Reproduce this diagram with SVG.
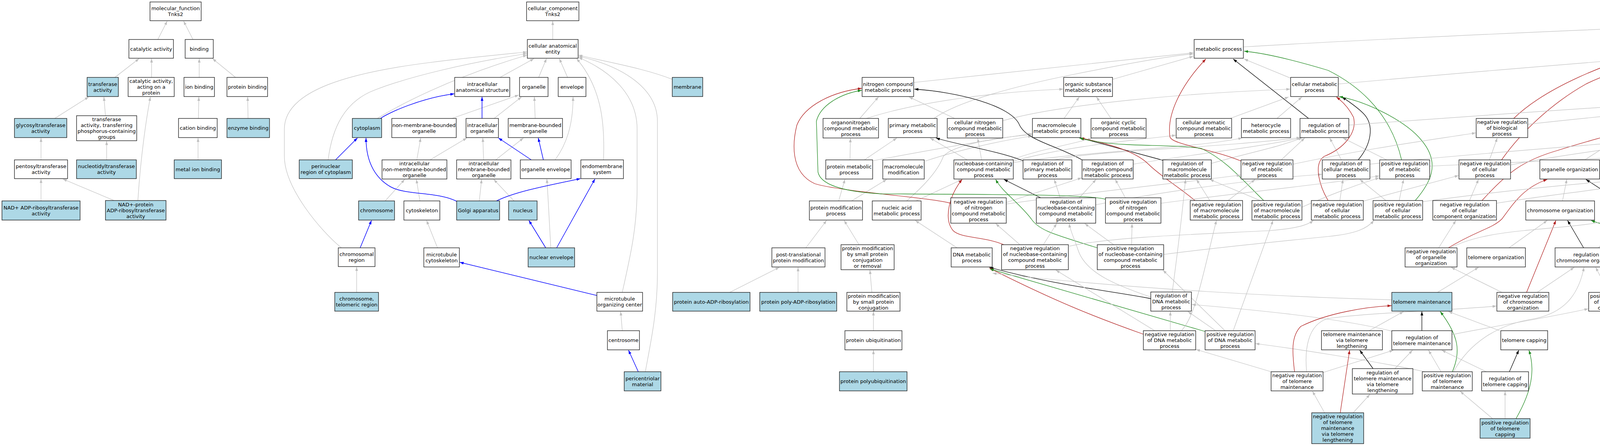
<svg xmlns="http://www.w3.org/2000/svg" width="6032" height="1141" viewBox="0 0 6032 1141">
<defs>
<style>
#nodes rect{fill:#fff;stroke:#111;stroke-width:1.3}
#nodes .lb rect{fill:#add8e6}
#nodes .cf rect{fill:#6495ed}
#nodes text{font-family:'DejaVu Sans','Liberation Sans',sans-serif;font-size:13px;text-anchor:middle;fill:#000}
#edges path{fill:none;stroke-width:1.2}
#edges .g{stroke:#c0c0c0;marker-end:url(#ag)}
#edges .b{stroke:#0000ff;stroke-width:1.5;marker-end:url(#ab)}
#edges .r{stroke:#b22222;stroke-width:1.3;marker-end:url(#ar)}
#edges .v{stroke:#228b22;stroke-width:1.3;marker-end:url(#av)}
#edges .k{stroke:#000;stroke-width:1.3;marker-end:url(#ak)}
</style>
<marker id="ag" viewBox="0 0 10 7" refX="10" refY="3.5" markerWidth="10" markerHeight="7" markerUnits="userSpaceOnUse" orient="auto"><path d="M0,0L10,3.5L0,7z" fill="#c0c0c0"/></marker>
<marker id="ab" viewBox="0 0 10 7" refX="10" refY="3.5" markerWidth="10" markerHeight="7" markerUnits="userSpaceOnUse" orient="auto"><path d="M0,0L10,3.5L0,7z" fill="#0000ff"/></marker>
<marker id="ar" viewBox="0 0 10 7" refX="10" refY="3.5" markerWidth="10" markerHeight="7" markerUnits="userSpaceOnUse" orient="auto"><path d="M0,0L10,3.5L0,7z" fill="#b22222"/></marker>
<marker id="av" viewBox="0 0 10 7" refX="10" refY="3.5" markerWidth="10" markerHeight="7" markerUnits="userSpaceOnUse" orient="auto"><path d="M0,0L10,3.5L0,7z" fill="#228b22"/></marker>
<marker id="ak" viewBox="0 0 10 7" refX="10" refY="3.5" markerWidth="10" markerHeight="7" markerUnits="userSpaceOnUse" orient="auto"><path d="M0,0L10,3.5L0,7z" fill="#000"/></marker>
</defs>
<rect width="6032" height="1141" fill="#fff"/>
<g id="edges">
<path class="g" d="M404,101L428,54"/>
<path class="g" d="M494,101L470,54"/>
<path class="g" d="M294,198L356,150"/>
<path class="g" d="M388,198L388,150"/>
<path class="g" d="M510,198L510,150"/>
<path class="g" d="M603,198L544,150"/>
<path class="g" d="M140,303L227,248"/>
<path class="g" d="M270,296L266,248"/>
<path class="g" d="M508,303L509,248"/>
<path class="g" d="M635,303L634,248"/>
<path class="g" d="M105,409L105,353"/>
<path class="g" d="M273,409L273,361"/>
<path class="g" d="M507,409L507,353"/>
<path class="g" d="M105,514L105,458"/>
<path class="g" d="M292,513L161,458"/>
<path class="g" d="M353,513C360,400 375,300 385,248"/>
<path class="g" d="M1415,101L1415,54"/>
<path class="g" d="M1280,198L1367,150"/>
<path class="g" d="M1379,198L1399,150"/>
<path class="g" d="M1453,198L1432,150"/>
<path class="g" d="M1721,203C1650,175 1560,160 1481,141"/>
<path class="g" d="M1545,409C1548,330 1545,230 1476,150"/>
<path class="g" d="M1593,748C1615,650 1631,580 1631,480L1631,330C1631,240 1560,180 1481,147"/>
<path class="g" d="M1652,951C1665,880 1683,800 1683,700L1683,310C1683,230 1600,170 1481,144"/>
<path class="g" d="M874,634C820,590 728,480 728,400L728,330C728,230 900,185 1100,160C1200,147 1300,138 1349,133"/>
<path class="g" d="M840,409C850,330 880,260 960,230C1050,195 1200,160 1349,137"/>
<path class="g" d="M966,303C1020,270 1150,200 1349,141"/>
<path class="g" d="M1157,303L1328,243"/>
<path class="g" d="M1265,303L1335,248"/>
<path class="g" d="M1370,303L1368,248"/>
<path class="g" d="M1421,409C1450,370 1467,320 1467,248"/>
<path class="g" d="M1067,409L1077,353"/>
<path class="g" d="M1101,409L1195,353"/>
<path class="g" d="M1238,409L1236,353"/>
<path class="g" d="M1269,409L1340,353"/>
<path class="g" d="M1075,514L1066,459"/>
<path class="g" d="M986,514L1036,459"/>
<path class="g" d="M1227,514L1233,459"/>
<path class="g" d="M1316,514L1264,459"/>
<path class="g" d="M1410,634C1408,590 1404,520 1400,458"/>
<path class="g" d="M1120,634L1092,564"/>
<path class="g" d="M1593,846L1589,797"/>
<path class="g" d="M913,748L913,683"/>
<path class="g" d="M1868,748L1995,684"/>
<path class="b" d="M974,303C995,288 1080,250 1163,240"/>
<path class="b" d="M1234,303L1234,248"/>
<path class="b" d="M1360,409L1276,353"/>
<path class="b" d="M1391,409L1378,353"/>
<path class="b" d="M1271,514C1320,490 1400,475 1486,457"/>
<path class="b" d="M1425,634L1523,458"/>
<path class="b" d="M1397,634L1354,564"/>
<path class="b" d="M1169,515C1120,490 1040,500 1000,478C965,458 937,420 937,353"/>
<path class="b" d="M859,409L915,353"/>
<path class="b" d="M922,634L951,564"/>
<path class="b" d="M1528,756L1177,671"/>
<path class="b" d="M1634,951L1609,896"/>
<path class="g" d="M2147,514L2163,459"/>
<path class="g" d="M2180,514L2270,459"/>
<path class="g" d="M2345,514L2463,459"/>
<path class="g" d="M2321,514C2360,480 2400,440 2415,400C2440,370 2560,350 2642,345"/>
<path class="g" d="M2176,409L2177,354"/>
<path class="g" d="M2213,409L2296,353"/>
<path class="g" d="M2236,411C2400,380 2550,355 2642,342"/>
<path class="g" d="M2369,412C2450,385 2560,360 2642,348"/>
<path class="g" d="M2476,409L2381,353"/>
<path class="g" d="M2513,409L2503,354"/>
<path class="g" d="M2590,409C2650,385 2740,370 2795,354"/>
<path class="g" d="M2594,412C2750,370 2900,360 3010,346"/>
<path class="g" d="M2594,416C2800,385 3050,380 3180,353"/>
<path class="g" d="M2063,634L2116,564"/>
<path class="g" d="M2199,626L2161,564"/>
<path class="g" d="M2232,748L2227,691"/>
<path class="g" d="M2236,846L2236,797"/>
<path class="g" d="M2236,951L2236,896"/>
<path class="g" d="M2043,748L2043,684"/>
<path class="g" d="M2450,634L2343,564"/>
<path class="g" d="M2339,211L3055,135"/>
<path class="g" d="M2848,203L3055,144"/>
<path class="g" d="M2391,303C2450,260 2600,220 2750,190C2900,160 3000,142 3055,138"/>
<path class="g" d="M3304,200L3185,151"/>
<path class="g" d="M3183,120C3600,95 4400,60 5053,38"/>
<path class="g" d="M2201,303L2249,248"/>
<path class="g" d="M2444,303L2327,248"/>
<path class="g" d="M2218,303C2350,260 2550,235 2722,228"/>
<path class="g" d="M2567,309C2700,270 3000,240 3303,228"/>
<path class="g" d="M2724,303L2763,248"/>
<path class="g" d="M2844,303L2807,248"/>
<path class="g" d="M3149,303L3299,248"/>
<path class="g" d="M3269,303L3333,248"/>
<path class="k" d="M2619,411C2550,385 2450,370 2396,353"/>
<path class="k" d="M2770,409C2700,370 2630,360 2610,320C2590,270 2450,235 2341,228"/>
<path class="k" d="M2977,410L2766,353"/>
<path class="g" d="M2700,409C2800,385 3100,380 3329,352"/>
<path class="g" d="M2901,420C3050,395 3200,380 3331,353"/>
<path class="g" d="M3101,418C3200,390 3280,375 3334,352"/>
<path class="g" d="M3280,409L3340,353"/>
<path class="g" d="M3434,409L3404,353"/>
<path class="g" d="M3550,409L3438,353"/>
<path class="g" d="M2805,524C3000,485 3250,455 3384,446"/>
<path class="k" d="M3350,303L3157,151"/>
<path class="r" d="M3177,412C3100,380 3000,370 2995,350C2985,280 3040,200 3087,151"/>
<path class="v" d="M3588,409C3570,330 3520,240 3400,180C3300,150 3230,135 3185,131"/>
<path class="k" d="M3477,409C3510,370 3520,320 3490,290C3470,270 3445,255 3436,248"/>
<path class="r" d="M3400,513C3380,480 3360,420 3390,400C3440,380 3475,340 3465,300C3455,280 3440,262 3421,248"/>
<path class="v" d="M3623,513C3660,470 3690,420 3640,360C3600,310 3500,260 3428,247"/>
<path class="r" d="M3059,513C3020,480 2970,450 2940,420C2910,390 2850,370 2766,353"/>
<path class="v" d="M3235,513C3180,460 3140,410 3076,380C3030,372 2950,373 2888,370C2830,368 2790,360 2763,353"/>
<path class="g" d="M3097,513L3063,459"/>
<path class="g" d="M3144,513L3213,459"/>
<path class="g" d="M3226,513L3097,459"/>
<path class="g" d="M3333,530C3400,500 3480,470 3531,455"/>
<path class="k" d="M2664,506L2570,459"/>
<path class="g" d="M2576,518L2769,455"/>
<path class="g" d="M2576,522C2800,490 3000,470 3176,448"/>
<path class="g" d="M2763,506L2806,459"/>
<path class="g" d="M2714,506L2699,459"/>
<path class="g" d="M2881,506L2855,459"/>
<path class="g" d="M2972,520C3200,490 3400,470 3531,450"/>
<path class="r" d="M2434,520C2380,505 2150,490 2086,470C2020,440 2030,360 2040,320C2060,270 2130,235 2206,226"/>
<path class="v" d="M2830,510C2800,497 2500,497 2257,496C2150,490 2100,470 2094,440L2090,310C2100,270 2150,240 2206,231"/>
<path class="r" d="M2570,626C2520,605 2460,610 2440,590C2415,560 2430,500 2463,459"/>
<path class="v" d="M2809,634C2700,600 2660,590 2640,560C2610,520 2565,490 2549,459"/>
<path class="g" d="M2671,626L2705,572"/>
<path class="g" d="M2611,626L2549,572"/>
<path class="g" d="M2851,626L2777,572"/>
<path class="g" d="M2897,626L2898,572"/>
<path class="g" d="M2737,630C2850,605 3100,598 3250,590C3310,585 3345,578 3362,564"/>
<path class="g" d="M2979,651C3100,635 3300,615 3400,605C3470,598 3500,585 3517,564"/>
<path class="k" d="M2946,764C2850,745 2700,730 2533,684"/>
<path class="r" d="M2927,855C2800,810 2700,770 2533,686"/>
<path class="v" d="M3085,848L2534,688"/>
<path class="g" d="M3563,767C3300,760 2900,740 2541,699"/>
<path class="g" d="M3001,747C3010,680 3025,560 3035,459"/>
<path class="g" d="M2946,760C2860,730 2780,700 2760,640C2750,610 2740,590 2737,572"/>
<path class="g" d="M2996,846L2996,797"/>
<path class="g" d="M3112,846L3041,797"/>
<path class="g" d="M2956,846L2703,691"/>
<path class="g" d="M3136,846L2977,691"/>
<path class="g" d="M3024,846C3060,812 3080,700 3114,564"/>
<path class="g" d="M3157,846L3259,564"/>
<path class="g" d="M3563,847C3450,820 3300,800 3051,779"/>
<path class="g" d="M3648,951C3500,920 3300,890 3214,879"/>
<path class="g" d="M3254,951L3062,894"/>
<path class="r" d="M3314,951C3308,900 3305,860 3330,835C3400,800 3500,785 3562,782"/>
<path class="g" d="M3345,951C3340,900 3345,830 3400,815C3500,800 3700,795 3831,783"/>
<path class="k" d="M3515,943L3481,896"/>
<path class="g" d="M3571,943L3616,896"/>
<path class="g" d="M3387,953L3567,896"/>
<path class="g" d="M3689,951L3657,896"/>
<path class="v" d="M3718,951C3740,900 3735,860 3687,797"/>
<path class="g" d="M3721,951C3760,880 3830,830 3930,815C4000,800 4040,760 4055,684"/>
<path class="g" d="M3717,856C3850,830 3950,815 4066,790"/>
<path class="k" d="M3864,951L3888,896"/>
<path class="g" d="M3805,951L3691,896"/>
<path class="v" d="M3881,1071C3910,1020 3935,960 3914,896"/>
<path class="g" d="M3853,1071L3853,1001"/>
<path class="g" d="M3821,1071L3738,1001"/>
<path class="r" d="M3431,1056L3455,896"/>
<path class="g" d="M3464,1056L3507,1009"/>
<path class="g" d="M3391,1056L3360,1001"/>
<path class="k" d="M3640,846L3640,797"/>
<path class="g" d="M3505,846L3593,797"/>
<path class="g" d="M3839,846L3708,797"/>
<path class="g" d="M3680,748L3785,684"/>
<path class="g" d="M3863,634L3961,564"/>
<path class="k" d="M4054,634L4013,564"/>
<path class="g" d="M4092,634L4154,564"/>
<path class="r" d="M3908,748L3983,564"/>
<path class="g" d="M3935,748L4030,684"/>
<path class="g" d="M3845,748L3715,684"/>
<path class="v" d="M4148,748C4170,700 4180,640 4160,610C4130,580 4090,570 4073,564"/>
<path class="g" d="M4118,748L4085,684"/>
<path class="g" d="M4169,748L4257,684"/>
<path class="r" d="M3708,634C3780,590 3820,585 3845,560C3875,520 3900,480 3961,459"/>
<path class="g" d="M3713,634C3760,610 3820,598 3900,590C4000,580 4080,575 4115,564"/>
<path class="g" d="M3683,634L3727,564"/>
<path class="v" d="M4298,634L4295,580C4290,530 4250,505 4220,495C4150,470 4120,462 4097,458"/>
<path class="g" d="M4270,634L4210,564"/>
<path class="g" d="M4321,634L4388,564"/>
<path class="g" d="M4000,514L4011,459"/>
<path class="k" d="M4145,514L4060,459"/>
<path class="g" d="M4184,514L4184,459"/>
<path class="v" d="M4381,513C4320,440 4250,380 4210,353"/>
<path class="g" d="M4407,513L4397,459"/>
<path class="g" d="M4360,513L4244,459"/>
<path class="r" d="M3794,513C3860,440 3900,410 3987,385C4050,365 4090,355 4117,347"/>
<path class="g" d="M3762,513L3785,459"/>
<path class="g" d="M3831,520C3950,500 4150,480 4244,459"/>
<path class="g" d="M4057,409L4145,353"/>
<path class="k" d="M4184,409L4184,353"/>
<path class="g" d="M4235,409L4347,353"/>
<path class="g" d="M4390,409L4391,353"/>
<path class="v" d="M4360,409C4325,370 4315,300 4338,259C4360,210 4400,170 4420,150"/>
<path class="k" d="M4401,303L4441,150"/>
<path class="g" d="M4529,303L4462,150"/>
<path class="k" d="M4542,409L4541,353"/>
<path class="g" d="M4510,409L4433,353"/>
<path class="v" d="M4610,514C4630,470 4630,420 4578,353"/>
<path class="g" d="M4584,514L4559,459"/>
<path class="g" d="M4550,514L4441,459"/>
<path class="g" d="M4259,198L4395,148"/>
<path class="g" d="M4187,303L4191,248"/>
<path class="r" d="M3844,409C3900,330 3980,260 4060,215C4150,170 4300,140 4395,130"/>
<path class="g" d="M3813,409L3833,353"/>
<path class="r" d="M3875,303C3950,230 4100,160 4300,110C4500,70 4800,50 5053,33"/>
<path class="g" d="M4503,117C4700,90 4900,60 5053,43"/>
<path class="g" d="M3426,215C3800,180 4200,150 4395,133"/>
<path class="g" d="M4733,303C4720,260 4690,220 4600,180C4560,160 4530,145 4504,137"/>
<path class="g" d="M5706,203C5600,180 5300,170 4900,150C4700,140 4600,135 4504,129"/>
<path class="g" d="M4722,409C4690,380 4650,320 4610,280C4550,220 4500,180 4480,150"/>
<path class="g" d="M4822,409L4609,348"/>
<path class="b" d="M4705,409L4588,353"/>
<path class="b" d="M4749,409L4745,353"/>
<path class="b" d="M4817,411C4880,380 4940,360 4975,352"/>
<path class="g" d="M3310,420C3500,380 3650,360 3778,340"/>
<path class="g" d="M3453,320C4000,280 4600,240 4964,226"/>
<path class="g" d="M3911,318C4200,285 4600,255 4964,232"/>
<path class="g" d="M4440,303C4520,275 4700,250 4964,238"/>
<path class="g" d="M4451,409C4550,395 4700,380 4840,353"/>
<path class="g" d="M3660,425C4000,410 4500,390 4830,353"/>
<path class="g" d="M3642,516C3900,480 4150,460 4323,448"/>
<path class="g" d="M3485,516L3734,449"/>
<path class="g" d="M3430,513L3438,459"/>
<path class="g" d="M3548,513L3481,459"/>
<path class="g" d="M3582,513L3593,459"/>
<path class="g" d="M3507,420C3800,390 4100,370 4339,348"/>
<path class="g" d="M3867,422C4000,395 4200,370 4345,353"/>
<path class="g" d="M4748,514C4700,500 4650,480 4611,458"/>
<path class="g" d="M4727,634C4700,620 4660,590 4632,564"/>
<path class="g" d="M5022,198L5016,150"/>
<path class="k" d="M5055,198C5090,150 5105,110 5115,54"/>
<path class="g" d="M5038,101L5086,54"/>
<path class="g" d="M5161,198L5125,54"/>
<path class="g" d="M5292,198L5142,54"/>
<path class="g" d="M5417,198L5159,54"/>
<path class="g" d="M5582,207C5540,180 5300,110 5181,54"/>
<path class="g" d="M5733,118L5181,41"/>
<path class="v" d="M4885,303C4880,220 4900,120 5053,40"/>
<path class="g" d="M5772,198L5772,150"/>
<path class="g" d="M5892,198L5815,150"/>
<path class="g" d="M4791,303C4850,280 5000,260 5125,240"/>
<path class="g" d="M4919,303L4992,248"/>
<path class="g" d="M5014,303L5021,248"/>
<path class="g" d="M5078,409C5070,350 5050,290 5039,248"/>
<path class="g" d="M5134,303L5065,248"/>
<path class="g" d="M5288,305C5200,270 5130,255 5088,245"/>
<path class="g" d="M5445,307C5380,270 5180,258 5088,247"/>
<path class="g" d="M5579,303C5530,275 5300,262 5100,248"/>
<path class="k" d="M5168,303L5168,248"/>
<path class="v" d="M5299,409L5189,248"/>
<path class="k" d="M5378,303L5432,248"/>
<path class="k" d="M5453,303L5363,248"/>
<path class="b" d="M5695,303C5640,275 5500,265 5370,244"/>
<path class="g" d="M5712,303L5652,248"/>
<path class="k" d="M5618,303L5618,248"/>
<path class="g" d="M5772,409C5800,330 5790,270 5700,252C5620,240 5570,240 5527,240"/>
<path class="g" d="M5905,303L5815,248"/>
<path class="g" d="M5944,303L5937,248"/>
<path class="g" d="M5945,409L5945,353"/>
<path class="g" d="M5945,514L5945,459"/>
<path class="g" d="M5945,634L5945,564"/>
<path class="g" d="M5945,748L5945,684"/>
<path class="g" d="M5584,409L5528,353"/>
<path class="g" d="M5614,409L5616,353"/>
<path class="k" d="M5642,409L5708,353"/>
<path class="g" d="M5744,409L5741,353"/>
<path class="g" d="M5612,514L5612,459"/>
<path class="k" d="M5644,514L5712,459"/>
<path class="g" d="M5579,514L5391,353"/>
<path class="g" d="M4926,409L4988,353"/>
<path class="k" d="M5065,409L5031,353"/>
<path class="v" d="M5205,514C5185,460 5140,410 5048,349"/>
<path class="g" d="M5279,409L5207,353"/>
<path class="g" d="M5252,422C5150,400 5000,370 4945,353"/>
<path class="g" d="M5183,514L5112,459"/>
<path class="g" d="M5151,516C5080,490 5000,450 4921,353"/>
<path class="k" d="M4799,514L4769,459"/>
<path class="g" d="M4868,514L5036,452"/>
<path class="g" d="M4915,514L4804,459"/>
<path class="g" d="M4769,634L4799,564"/>
<path class="v" d="M4750,634C4740,600 4735,560 4735,530C4735,500 4740,480 4744,459"/>
<path class="g" d="M4834,634C4950,600 5100,570 5150,555"/>
<path class="g" d="M4829,636C4950,615 5200,615 5280,580C5310,560 5320,500 5320,459"/>
<path class="g" d="M4966,619L4965,564"/>
<path class="b" d="M5007,619C5030,590 5045,545 5035,510C5020,480 4990,465 4962,456"/>
<path class="g" d="M5100,634C5095,600 5091,580 5080,540C5050,480 4960,430 4918,353"/>
<path class="g" d="M4967,748L4967,699"/>
<path class="b" d="M4998,748L5078,684"/>
<path class="k" d="M4893,846L4943,797"/>
<path class="g" d="M5033,846L4992,797"/>
<path class="v" d="M4872,951C4910,900 4950,860 4962,797"/>
<path class="g" d="M4845,951L4858,896"/>
<path class="g" d="M4825,951L4765,684"/>
<path class="g" d="M4868,846C4865,750 4850,640 4825,564"/>
<path class="k" d="M5003,951L5035,896"/>
<path class="g" d="M4958,951L4901,896"/>
<path class="g" d="M4945,1063L4868,1001"/>
<path class="g" d="M4986,1063L4986,1001"/>
<path class="v" d="M5024,1063C5060,1000 5072,950 5062,896"/>
</g>
<g id="nodes">
<g id="n_mf"><rect x="384" y="5" width="131" height="48"/><text x="449.5" y="26">molecular_function<tspan x="449.5" dy="15">Tnks2</tspan></text></g>
<g id="n_cat"><rect x="330" y="101" width="114" height="48"/><text x="387" y="129.5">catalytic activity</text></g>
<g id="n_bind"><rect x="474" y="101" width="72" height="48"/><text x="510" y="129.5">binding</text></g>
<g id="n_trans" class="lb"><rect x="223" y="198" width="80" height="49"/><text x="263" y="219.5">transferase<tspan x="263" dy="15">activity</tspan></text></g>
<g id="n_catprot"><rect x="328" y="198" width="118" height="49"/><text x="387" y="212">catalytic activity,<tspan x="387" dy="15">acting on a</tspan><tspan x="387" dy="15">protein</tspan></text></g>
<g id="n_ionb"><rect x="471" y="198" width="78" height="49"/><text x="510" y="227">ion binding</text></g>
<g id="n_protb"><rect x="581" y="198" width="104" height="49"/><text x="633" y="227">protein binding</text></g>
<g id="n_glyco" class="lb"><rect x="37" y="303" width="134" height="49"/><text x="104" y="324.5">glycosyltransferase<tspan x="104" dy="15">activity</tspan></text></g>
<g id="n_transP"><rect x="196" y="296" width="154" height="64"/><text x="273" y="310">transferase<tspan x="273" dy="15">activity, transferring</tspan><tspan x="273" dy="15">phosphorus-containing</tspan><tspan x="273" dy="15">groups</tspan></text></g>
<g id="n_cation"><rect x="457" y="303" width="99" height="49"/><text x="506.5" y="332">cation binding</text></g>
<g id="n_enzb" class="lb"><rect x="581" y="303" width="109" height="49"/><text x="635.5" y="332">enzyme binding</text></g>
<g id="n_pento"><rect x="37" y="409" width="136" height="48"/><text x="105" y="430">pentosyltransferase<tspan x="105" dy="15">activity</tspan></text></g>
<g id="n_nucleo" class="lb"><rect x="196" y="409" width="153" height="48"/><text x="272.5" y="430">nucleotidyltransferase<tspan x="272.5" dy="15">activity</tspan></text></g>
<g id="n_metal" class="lb"><rect x="446" y="409" width="121" height="48"/><text x="506.5" y="437.5">metal ion binding</text></g>
<g id="n_nadadp" class="lb"><rect x="5" y="514" width="200" height="49"/><text x="105" y="535.5">NAD+ ADP-ribosyltransferase<tspan x="105" dy="15">activity</tspan></text></g>
<g id="n_nadprot" class="lb"><rect x="270" y="513" width="155" height="50"/><text x="347.5" y="527.5">NAD+-protein<tspan x="347.5" dy="15">ADP-ribosyltransferase</tspan><tspan x="347.5" dy="15">activity</tspan></text></g>
<g id="n_cc"><rect x="1348" y="5" width="134" height="48"/><text x="1415" y="26">cellular_component<tspan x="1415" dy="15">Tnks2</tspan></text></g>
<g id="n_cae"><rect x="1350" y="101" width="130" height="48"/><text x="1415" y="122">cellular anatomical<tspan x="1415" dy="15">entity</tspan></text></g>
<g id="n_ias"><rect x="1164" y="198" width="141" height="49"/><text x="1234.5" y="219.5">intracellular<tspan x="1234.5" dy="15">anatomical structure</tspan></text></g>
<g id="n_org"><rect x="1330" y="198" width="73" height="49"/><text x="1366.5" y="227">organelle</text></g>
<g id="n_env"><rect x="1429" y="198" width="71" height="49"/><text x="1464.5" y="227">envelope</text></g>
<g id="n_mem" class="lb"><rect x="1721" y="198" width="78" height="49"/><text x="1760" y="227">membrane</text></g>
<g id="n_cyto" class="lb"><rect x="902" y="303" width="75" height="49"/><text x="939.5" y="332">cytoplasm</text></g>
<g id="n_nmbo"><rect x="1003" y="303" width="165" height="49"/><text x="1085.5" y="324.5">non-membrane-bounded<tspan x="1085.5" dy="15">organelle</tspan></text></g>
<g id="n_io"><rect x="1193" y="303" width="83" height="49"/><text x="1234.5" y="324.5">intracellular<tspan x="1234.5" dy="15">organelle</tspan></text></g>
<g id="n_mbo"><rect x="1301" y="303" width="139" height="49"/><text x="1370.5" y="324.5">membrane-bounded<tspan x="1370.5" dy="15">organelle</tspan></text></g>
<g id="n_peri" class="lb"><rect x="766" y="409" width="136" height="48"/><text x="834" y="430">perinuclear<tspan x="834" dy="15">region of cytoplasm</tspan></text></g>
<g id="n_inmbo"><rect x="978" y="409" width="166" height="49"/><text x="1061" y="423">intracellular<tspan x="1061" dy="15">non-membrane-bounded</tspan><tspan x="1061" dy="15">organelle</tspan></text></g>
<g id="n_imbo"><rect x="1169" y="409" width="139" height="49"/><text x="1238.5" y="423">intracellular<tspan x="1238.5" dy="15">membrane-bounded</tspan><tspan x="1238.5" dy="15">organelle</tspan></text></g>
<g id="n_orgenv"><rect x="1332" y="409" width="130" height="48"/><text x="1397" y="437.5">organelle envelope</text></g>
<g id="n_endo"><rect x="1487" y="409" width="109" height="48"/><text x="1541.5" y="430">endomembrane<tspan x="1541.5" dy="15">system</tspan></text></g>
<g id="n_chrom" class="lb"><rect x="918" y="514" width="92" height="49"/><text x="964" y="543">chromosome</text></g>
<g id="n_cytosk"><rect x="1034" y="514" width="92" height="49"/><text x="1080" y="543">cytoskeleton</text></g>
<g id="n_golgi" class="lb"><rect x="1169" y="514" width="110" height="49"/><text x="1224" y="543">Golgi apparatus</text></g>
<g id="n_nuc" class="lb"><rect x="1302" y="514" width="73" height="49"/><text x="1338.5" y="543">nucleus</text></g>
<g id="n_chromreg"><rect x="866" y="634" width="94" height="48"/><text x="913" y="655">chromosomal<tspan x="913" dy="15">region</tspan></text></g>
<g id="n_mtcyto"><rect x="1085" y="634" width="91" height="49"/><text x="1130.5" y="655.5">microtubule<tspan x="1130.5" dy="15">cytoskeleton</tspan></text></g>
<g id="n_nucenv" class="lb"><rect x="1352" y="634" width="119" height="49"/><text x="1411.5" y="663">nuclear envelope</text></g>
<g id="n_telreg" class="lb"><rect x="857" y="748" width="112" height="48"/><text x="913" y="769">chromosome,<tspan x="913" dy="15">telomeric region</tspan></text></g>
<g id="n_mtoc"><rect x="1528" y="748" width="117" height="48"/><text x="1586.5" y="769">microtubule<tspan x="1586.5" dy="15">organizing center</tspan></text></g>
<g id="n_centro"><rect x="1555" y="846" width="82" height="49"/><text x="1596" y="875">centrosome</text></g>
<g id="n_pcm" class="lb"><rect x="1598" y="951" width="94" height="49"/><text x="1645" y="972.5">pericentriolar<tspan x="1645" dy="15">material</tspan></text></g>
<g id="n_autoadp" class="lb"><rect x="1722" y="748" width="198" height="48"/><text x="1821" y="776.5">protein auto-ADP-ribosylation</text></g>
<g id="n_polyadp" class="lb"><rect x="1945" y="748" width="197" height="48"/><text x="2043.5" y="776.5">protein poly-ADP-ribosylation</text></g>
<g id="n_ptpm"><rect x="1976" y="634" width="136" height="49"/><text x="2044" y="655.5">post-translational<tspan x="2044" dy="15">protein modification</tspan></text></g>
<g id="n_pmsp"><rect x="2153" y="626" width="136" height="64"/><text x="2221" y="640">protein modification<tspan x="2221" dy="15">by small protein</tspan><tspan x="2221" dy="15">conjugation</tspan><tspan x="2221" dy="15">or removal</tspan></text></g>
<g id="n_pmspc"><rect x="2168" y="748" width="136" height="48"/><text x="2236" y="761.5">protein modification<tspan x="2236" dy="15">by small protein</tspan><tspan x="2236" dy="15">conjugation</tspan></text></g>
<g id="n_pubiq"><rect x="2163" y="846" width="146" height="49"/><text x="2236" y="875">protein ubiquitination</text></g>
<g id="n_ppubiq" class="lb"><rect x="2149" y="951" width="173" height="49"/><text x="2235.5" y="980">protein polyubiquitination</text></g>
<g id="n_pmod"><rect x="2072" y="514" width="136" height="49"/><text x="2140" y="535.5">protein modification<tspan x="2140" dy="15">process</tspan></text></g>
<g id="n_namp"><rect x="2233" y="514" width="125" height="49"/><text x="2295.5" y="535.5">nucleic acid<tspan x="2295.5" dy="15">metabolic process</tspan></text></g>
<g id="n_dnamp"><rect x="2435" y="634" width="105" height="49"/><text x="2487.5" y="655.5">DNA metabolic<tspan x="2487.5" dy="15">process</tspan></text></g>
<g id="n_protmp"><rect x="2114" y="409" width="120" height="49"/><text x="2174" y="430.5">protein metabolic<tspan x="2174" dy="15">process</tspan></text></g>
<g id="n_mmod"><rect x="2260" y="409" width="106" height="49"/><text x="2313" y="430.5">macromolecule<tspan x="2313" dy="15">modification</tspan></text></g>
<g id="n_nbmp"><rect x="2442" y="409" width="152" height="49"/><text x="2518" y="423">nucleobase-containing<tspan x="2518" dy="15">compound metabolic</tspan><tspan x="2518" dy="15">process</tspan></text></g>
<g id="n_rpmp"><rect x="2619" y="409" width="125" height="49"/><text x="2681.5" y="423">regulation of<tspan x="2681.5" dy="15">primary metabolic</tspan><tspan x="2681.5" dy="15">process</tspan></text></g>
<g id="n_rncmp"><rect x="2770" y="409" width="131" height="49"/><text x="2835.5" y="423">regulation of<tspan x="2835.5" dy="15">nitrogen compound</tspan><tspan x="2835.5" dy="15">metabolic process</tspan></text></g>
<g id="n_rmmp"><rect x="2977" y="409" width="124" height="49"/><text x="3039" y="423">regulation of<tspan x="3039" dy="15">macromolecule</tspan><tspan x="3039" dy="15">metabolic process</tspan></text></g>
<g id="n_nrmp"><rect x="3177" y="409" width="133" height="49"/><text x="3243.5" y="423">negative regulation<tspan x="3243.5" dy="15">of metabolic</tspan><tspan x="3243.5" dy="15">process</tspan></text></g>
<g id="n_rcmp"><rect x="3385" y="409" width="122" height="49"/><text x="3446" y="423">regulation of<tspan x="3446" dy="15">cellular metabolic</tspan><tspan x="3446" dy="15">process</tspan></text></g>
<g id="n_prmp"><rect x="3532" y="409" width="128" height="49"/><text x="3596" y="423">positive regulation<tspan x="3596" dy="15">of metabolic</tspan><tspan x="3596" dy="15">process</tspan></text></g>
<g id="n_nrcp"><rect x="3735" y="409" width="132" height="49"/><text x="3801" y="423">negative regulation<tspan x="3801" dy="15">of cellular</tspan><tspan x="3801" dy="15">process</tspan></text></g>
<g id="n_orgorg"><rect x="3942" y="409" width="153" height="49"/><text x="4018.5" y="438">organelle organization</text></g>
<g id="n_rccorg"><rect x="4118" y="409" width="131" height="49"/><text x="4183.5" y="423">regulation of<tspan x="4183.5" dy="15">cellular component</tspan><tspan x="4183.5" dy="15">organization</tspan></text></g>
<g id="n_prcp"><rect x="4324" y="409" width="127" height="49"/><text x="4387.5" y="423">positive regulation<tspan x="4387.5" dy="15">of cellular</tspan><tspan x="4387.5" dy="15">process</tspan></text></g>
<g id="n_rcc"><rect x="4477" y="409" width="133" height="49"/><text x="4543.5" y="430.5">regulation of<tspan x="4543.5" dy="15">cell communication</tspan></text></g>
<g id="n_onmp"><rect x="2107" y="303" width="142" height="50"/><text x="2178" y="317.5">organonitrogen<tspan x="2178" dy="15">compound metabolic</tspan><tspan x="2178" dy="15">process</tspan></text></g>
<g id="n_pmp"><rect x="2274" y="303" width="125" height="49"/><text x="2336.5" y="324.5">primary metabolic<tspan x="2336.5" dy="15">process</tspan></text></g>
<g id="n_cnmp"><rect x="2425" y="303" width="142" height="50"/><text x="2496" y="317.5">cellular nitrogen<tspan x="2496" dy="15">compound metabolic</tspan><tspan x="2496" dy="15">process</tspan></text></g>
<g id="n_mmp"><rect x="2643" y="303" width="124" height="49"/><text x="2705" y="324.5">macromolecule<tspan x="2705" dy="15">metabolic process</tspan></text></g>
<g id="n_ocmp"><rect x="2793" y="303" width="141" height="50"/><text x="2863.5" y="317.5">organic cyclic<tspan x="2863.5" dy="15">compound metabolic</tspan><tspan x="2863.5" dy="15">process</tspan></text></g>
<g id="n_camp"><rect x="3011" y="303" width="142" height="50"/><text x="3082" y="317.5">cellular aromatic<tspan x="3082" dy="15">compound metabolic</tspan><tspan x="3082" dy="15">process</tspan></text></g>
<g id="n_hmp"><rect x="3178" y="303" width="126" height="49"/><text x="3241" y="324.5">heterocycle<tspan x="3241" dy="15">metabolic process</tspan></text></g>
<g id="n_rmp"><rect x="3328" y="303" width="125" height="49"/><text x="3390.5" y="324.5">regulation of<tspan x="3390.5" dy="15">metabolic process</tspan></text></g>
<g id="n_nrbp"><rect x="3779" y="303" width="132" height="49"/><text x="3845" y="317">negative regulation<tspan x="3845" dy="15">of biological</tspan><tspan x="3845" dy="15">process</tspan></text></g>
<g id="n_ccorg"><rect x="4118" y="303" width="130" height="49"/><text x="4183" y="324.5">cellular component<tspan x="4183" dy="15">organization</tspan></text></g>
<g id="n_rcp"><rect x="4340" y="303" width="108" height="49"/><text x="4394" y="324.5">regulation of<tspan x="4394" dy="15">cellular process</tspan></text></g>
<g id="n_ccomm"><rect x="4473" y="303" width="134" height="49"/><text x="4540" y="332">cell communication</text></g>
<g id="n_ncmp"><rect x="2207" y="198" width="132" height="49"/><text x="2273" y="219.5">nitrogen compound<tspan x="2273" dy="15">metabolic process</tspan></text></g>
<g id="n_osmp"><rect x="2723" y="198" width="125" height="49"/><text x="2785.5" y="219.5">organic substance<tspan x="2785.5" dy="15">metabolic process</tspan></text></g>
<g id="n_cmp"><rect x="3304" y="198" width="122" height="49"/><text x="3365" y="219.5">cellular metabolic<tspan x="3365" dy="15">process</tspan></text></g>
<g id="n_ccob"><rect x="4129" y="198" width="130" height="49"/><text x="4194" y="212">cellular component<tspan x="4194" dy="15">organization</tspan><tspan x="4194" dy="15">or biogenesis</tspan></text></g>
<g id="n_mp"><rect x="3057" y="101" width="126" height="48"/><text x="3120" y="129.5">metabolic process</text></g>
<g id="n_cp"><rect x="4396" y="101" width="107" height="48"/><text x="4449.5" y="129.5">cellular process</text></g>
<g id="n_nrncmp"><rect x="2434" y="506" width="142" height="65"/><text x="2505" y="520.5">negative regulation<tspan x="2505" dy="15">of nitrogen</tspan><tspan x="2505" dy="15">compound metabolic</tspan><tspan x="2505" dy="15">process</tspan></text></g>
<g id="n_rnbmp"><rect x="2653" y="506" width="152" height="65"/><text x="2729" y="520.5">regulation of<tspan x="2729" dy="15">nucleobase-containing</tspan><tspan x="2729" dy="15">compound metabolic</tspan><tspan x="2729" dy="15">process</tspan></text></g>
<g id="n_prncmp"><rect x="2830" y="506" width="142" height="65"/><text x="2901" y="520.5">positive regulation<tspan x="2901" dy="15">of nitrogen</tspan><tspan x="2901" dy="15">compound metabolic</tspan><tspan x="2901" dy="15">process</tspan></text></g>
<g id="n_nrmmp"><rect x="3047" y="513" width="134" height="50"/><text x="3114" y="527.5">negative regulation<tspan x="3114" dy="15">of macromolecule</tspan><tspan x="3114" dy="15">metabolic process</tspan></text></g>
<g id="n_prmmp"><rect x="3205" y="513" width="128" height="50"/><text x="3269" y="527.5">positive regulation<tspan x="3269" dy="15">of macromolecule</tspan><tspan x="3269" dy="15">metabolic process</tspan></text></g>
<g id="n_nrcmp"><rect x="3357" y="513" width="133" height="50"/><text x="3423.5" y="527.5">negative regulation<tspan x="3423.5" dy="15">of cellular</tspan><tspan x="3423.5" dy="15">metabolic process</tspan></text></g>
<g id="n_prcmp"><rect x="3515" y="513" width="127" height="50"/><text x="3578.5" y="527.5">positive regulation<tspan x="3578.5" dy="15">of cellular</tspan><tspan x="3578.5" dy="15">metabolic process</tspan></text></g>
<g id="n_nrccorg"><rect x="3668" y="513" width="163" height="50"/><text x="3749.5" y="527.5">negative regulation<tspan x="3749.5" dy="15">of cellular</tspan><tspan x="3749.5" dy="15">component organization</tspan></text></g>
<g id="n_chromorg"><rect x="3906" y="514" width="176" height="49"/><text x="3994" y="543">chromosome organization</text></g>
<g id="n_rorgorg"><rect x="4107" y="514" width="151" height="49"/><text x="4182.5" y="535.5">regulation of<tspan x="4182.5" dy="15">organelle organization</tspan></text></g>
<g id="n_prccorg"><rect x="4334" y="513" width="163" height="50"/><text x="4415.5" y="527.5">positive regulation<tspan x="4415.5" dy="15">of cellular</tspan><tspan x="4415.5" dy="15">component organization</tspan></text></g>
<g id="n_prcc"><rect x="4522" y="514" width="150" height="49"/><text x="4597" y="535.5">positive regulation<tspan x="4597" dy="15">of cell communication</tspan></text></g>
<g id="n_nrnb"><rect x="2564" y="626" width="171" height="64"/><text x="2649.5" y="640">negative regulation<tspan x="2649.5" dy="15">of nucleobase-containing</tspan><tspan x="2649.5" dy="15">compound metabolic</tspan><tspan x="2649.5" dy="15">process</tspan></text></g>
<g id="n_prnb"><rect x="2809" y="626" width="170" height="64"/><text x="2894" y="640">positive regulation<tspan x="2894" dy="15">of nucleobase-containing</tspan><tspan x="2894" dy="15">compound metabolic</tspan><tspan x="2894" dy="15">process</tspan></text></g>
<g id="n_nrorgorg"><rect x="3597" y="634" width="133" height="49"/><text x="3663.5" y="648">negative regulation<tspan x="3663.5" dy="15">of organelle</tspan><tspan x="3663.5" dy="15">organization</tspan></text></g>
<g id="n_telorg"><rect x="3755" y="634" width="150" height="49"/><text x="3830" y="663">telomere organization</text></g>
<g id="n_rchromorg"><rect x="3981" y="634" width="176" height="49"/><text x="4069" y="655.5">regulation of<tspan x="4069" dy="15">chromosome organization</tspan></text></g>
<g id="n_prorgorg"><rect x="4232" y="634" width="127" height="49"/><text x="4295.5" y="648">positive regulation<tspan x="4295.5" dy="15">of organelle</tspan><tspan x="4295.5" dy="15">organization</tspan></text></g>
<g id="n_prst"><rect x="4685" y="634" width="146" height="49"/><text x="4758" y="655.5">positive regulation<tspan x="4758" dy="15">of signal transduction</tspan></text></g>
<g id="n_csrspcc"><rect x="4907" y="619" width="122" height="79"/><text x="4968" y="633">cell surface<tspan x="4968" dy="15">receptor signaling</tspan><tspan x="4968" dy="15">pathway involved</tspan><tspan x="4968" dy="15">in cell-cell</tspan><tspan x="4968" dy="15">signaling</tspan></text></g>
<g id="n_ccwnt"><rect x="5053" y="634" width="120" height="49"/><text x="5113" y="655.5">cell-cell signaling<tspan x="5113" dy="15">by wnt</tspan></text></g>
<g id="n_plchrom"><rect x="5881" y="634" width="131" height="49"/><text x="5946.5" y="655.5">protein localization<tspan x="5946.5" dy="15">to chromosome</tspan></text></g>
<g id="n_rdnamp"><rect x="2946" y="747" width="104" height="49"/><text x="2998" y="761">regulation of<tspan x="2998" dy="15">DNA metabolic</tspan><tspan x="2998" dy="15">process</tspan></text></g>
<g id="n_telmain" class="lb"><rect x="3563" y="748" width="154" height="48"/><text x="3640" y="776.5">telomere maintenance</text></g>
<g id="n_nrchromorg"><rect x="3832" y="748" width="133" height="48"/><text x="3898.5" y="761.5">negative regulation<tspan x="3898.5" dy="15">of chromosome</tspan><tspan x="3898.5" dy="15">organization</tspan></text></g>
<g id="n_prchromorg"><rect x="4067" y="748" width="128" height="48"/><text x="4131" y="761.5">positive regulation<tspan x="4131" dy="15">of chromosome</tspan><tspan x="4131" dy="15">organization</tspan></text></g>
<g id="n_wnt" class="lb"><rect x="4921" y="748" width="94" height="48"/><text x="4968" y="769">Wnt signaling<tspan x="4968" dy="15">pathway</tspan></text></g>
<g id="n_pltel" class="lb"><rect x="5881" y="748" width="131" height="49"/><text x="5946.5" y="762">protein localization<tspan x="5946.5" dy="15">to chromosome,</tspan><tspan x="5946.5" dy="15">telomeric region</tspan></text></g>
<g id="n_nrdna"><rect x="2927" y="846" width="134" height="49"/><text x="2994" y="860">negative regulation<tspan x="2994" dy="15">of DNA metabolic</tspan><tspan x="2994" dy="15">process</tspan></text></g>
<g id="n_prdna"><rect x="3085" y="846" width="128" height="49"/><text x="3149" y="860">positive regulation<tspan x="3149" dy="15">of DNA metabolic</tspan><tspan x="3149" dy="15">process</tspan></text></g>
<g id="n_tmvtl"><rect x="3383" y="846" width="156" height="49"/><text x="3461" y="860">telomere maintenance<tspan x="3461" dy="15">via telomere</tspan><tspan x="3461" dy="15">lengthening</tspan></text></g>
<g id="n_rtm"><rect x="3563" y="846" width="154" height="49"/><text x="3640" y="867.5">regulation of<tspan x="3640" dy="15">telomere maintenance</tspan></text></g>
<g id="n_telcap"><rect x="3842" y="846" width="120" height="49"/><text x="3902" y="875">telomere capping</text></g>
<g id="n_rwnt"><rect x="4823" y="846" width="93" height="49"/><text x="4869.5" y="860">regulation of<tspan x="4869.5" dy="15">Wnt signaling</tspan><tspan x="4869.5" dy="15">pathway</tspan></text></g>
<g id="n_cwnt"><rect x="4991" y="846" width="126" height="49"/><text x="5054" y="867.5">canonical Wnt<tspan x="5054" dy="15">signaling pathway</tspan></text></g>
<g id="n_nrtm"><rect x="3254" y="951" width="133" height="49"/><text x="3320.5" y="965">negative regulation<tspan x="3320.5" dy="15">of telomere</tspan><tspan x="3320.5" dy="15">maintenance</tspan></text></g>
<g id="n_rtmvtl"><rect x="3462" y="943" width="155" height="65"/><text x="3539.5" y="957.5">regulation of<tspan x="3539.5" dy="15">telomere maintenance</tspan><tspan x="3539.5" dy="15">via telomere</tspan><tspan x="3539.5" dy="15">lengthening</tspan></text></g>
<g id="n_prtm"><rect x="3641" y="951" width="128" height="49"/><text x="3705" y="965">positive regulation<tspan x="3705" dy="15">of telomere</tspan><tspan x="3705" dy="15">maintenance</tspan></text></g>
<g id="n_rtc"><rect x="3793" y="951" width="120" height="49"/><text x="3853" y="972.5">regulation of<tspan x="3853" dy="15">telomere capping</tspan></text></g>
<g id="n_prwnt"><rect x="4772" y="951" width="128" height="49"/><text x="4836" y="965">positive regulation<tspan x="4836" dy="15">of Wnt signaling</tspan><tspan x="4836" dy="15">pathway</tspan></text></g>
<g id="n_rcwnt"><rect x="4924" y="951" width="125" height="49"/><text x="4986.5" y="965">regulation of<tspan x="4986.5" dy="15">canonical Wnt</tspan><tspan x="4986.5" dy="15">signaling pathway</tspan></text></g>
<g id="n_nrtmvtl" class="lb"><rect x="3358" y="1056" width="133" height="79"/><text x="3424.5" y="1070">negative regulation<tspan x="3424.5" dy="15">of telomere</tspan><tspan x="3424.5" dy="15">maintenance</tspan><tspan x="3424.5" dy="15">via telomere</tspan><tspan x="3424.5" dy="15">lengthening</tspan></text></g>
<g id="n_prtc" class="lb"><rect x="3789" y="1071" width="128" height="50"/><text x="3853" y="1085.5">positive regulation<tspan x="3853" dy="15">of telomere</tspan><tspan x="3853" dy="15">capping</tspan></text></g>
<g id="n_prcwnt" class="lb"><rect x="4923" y="1063" width="128" height="65"/><text x="4987" y="1077.5">positive regulation<tspan x="4987" dy="15">of canonical</tspan><tspan x="4987" dy="15">Wnt signaling</tspan><tspan x="4987" dy="15">pathway</tspan></text></g>
<g id="n_bp"><rect x="5054" y="5" width="126" height="48"/><text x="5117" y="26">biological_process<tspan x="5117" dy="15">Tnks2</tspan></text></g>
<g id="n_breg"><rect x="4941" y="101" width="139" height="48"/><text x="5010.5" y="129.5">biological regulation</text></g>
<g id="n_loc"><rect x="5733" y="101" width="80" height="48"/><text x="5773" y="129.5">localization</text></g>
<g id="n_rbp"><rect x="4965" y="198" width="122" height="49"/><text x="5026" y="219.5">regulation of<tspan x="5026" dy="15">biological process</tspan></text></g>
<g id="n_rts"><rect x="5126" y="198" width="83" height="49"/><text x="5167.5" y="219.5">response to<tspan x="5167.5" dy="15">stimulus</tspan></text></g>
<g id="n_devp"><rect x="5265" y="198" width="104" height="49"/><text x="5317" y="219.5">developmental<tspan x="5317" dy="15">process</tspan></text></g>
<g id="n_mop"><rect x="5393" y="198" width="133" height="49"/><text x="5459.5" y="219.5">multicellular<tspan x="5459.5" dy="15">organismal process</tspan></text></g>
<g id="n_growth"><rect x="5582" y="198" width="73" height="49"/><text x="5618.5" y="227">growth</text></g>
<g id="n_cloc"><rect x="5706" y="198" width="133" height="49"/><text x="5772.5" y="227">cellular localization</text></g>
<g id="n_mloc"><rect x="5878" y="198" width="107" height="49"/><text x="5931.5" y="219.5">macromolecule<tspan x="5931.5" dy="15">localization</tspan></text></g>
<g id="n_crts"><rect x="4683" y="303" width="116" height="49"/><text x="4741" y="324.5">cellular response<tspan x="4741" dy="15">to stimulus</tspan></text></g>
<g id="n_prbp"><rect x="4823" y="303" width="128" height="49"/><text x="4887" y="317">positive regulation<tspan x="4887" dy="15">of biological</tspan><tspan x="4887" dy="15">process</tspan></text></g>
<g id="n_sig"><rect x="4976" y="303" width="71" height="49"/><text x="5011.5" y="332">signaling</text></g>
<g id="n_rrts"><rect x="5123" y="303" width="89" height="49"/><text x="5167.5" y="317">regulation of<tspan x="5167.5" dy="15">response to</tspan><tspan x="5167.5" dy="15">stimulus</tspan></text></g>
<g id="n_rmop"><rect x="5288" y="303" width="133" height="49"/><text x="5354.5" y="317">regulation of<tspan x="5354.5" dy="15">multicellular</tspan><tspan x="5354.5" dy="15">organismal process</tspan></text></g>
<g id="n_rdevp"><rect x="5445" y="303" width="104" height="49"/><text x="5497" y="317">regulation of<tspan x="5497" dy="15">developmental</tspan><tspan x="5497" dy="15">process</tspan></text></g>
<g id="n_rgrowth"><rect x="5574" y="303" width="89" height="49"/><text x="5618.5" y="324.5">regulation of<tspan x="5618.5" dy="15">growth</tspan></text></g>
<g id="n_devg"><rect x="5687" y="303" width="104" height="49"/><text x="5739" y="324.5">developmental<tspan x="5739" dy="15">growth</tspan></text></g>
<g id="n_cmloc"><rect x="5867" y="303" width="158" height="49"/><text x="5946" y="324.5">cellular macromolecule<tspan x="5946" dy="15">localization</tspan></text></g>
<g id="n_st"><rect x="4686" y="409" width="131" height="49"/><text x="4751.5" y="438">signal transduction</text></g>
<g id="n_ccsig"><rect x="4841" y="409" width="120" height="49"/><text x="4901" y="438">cell-cell signaling</text></g>
<g id="n_rsig"><rect x="5037" y="409" width="88" height="49"/><text x="5081" y="430.5">regulation of<tspan x="5081" dy="15">signaling</tspan></text></g>
<g id="n_prrts"><rect x="5252" y="409" width="127" height="49"/><text x="5315.5" y="423">positive regulation<tspan x="5315.5" dy="15">of response</tspan><tspan x="5315.5" dy="15">to stimulus</tspan></text></g>
<g id="n_rdevg"><rect x="5560" y="409" width="103" height="49"/><text x="5611.5" y="423">regulation of<tspan x="5611.5" dy="15">developmental</tspan><tspan x="5611.5" dy="15">growth</tspan></text></g>
<g id="n_mog" class="cf"><rect x="5689" y="409" width="115" height="49"/><text x="5746.5" y="430.5">multicellular<tspan x="5746.5" dy="15">organism growth</tspan></text></g>
<g id="n_ploc"><rect x="5881" y="409" width="131" height="49"/><text x="5946.5" y="438">protein localization</text></g>
<g id="n_rst"><rect x="4748" y="514" width="130" height="49"/><text x="4813" y="535.5">regulation of<tspan x="4813" dy="15">signal transduction</tspan></text></g>
<g id="n_csrsp"><rect x="4903" y="514" width="122" height="49"/><text x="4964" y="528">cell surface<tspan x="4964" dy="15">receptor signaling</tspan><tspan x="4964" dy="15">pathway</tspan></text></g>
<g id="n_prsig"><rect x="5151" y="514" width="127" height="49"/><text x="5214.5" y="535.5">positive regulation<tspan x="5214.5" dy="15">of signaling</tspan></text></g>
<g id="n_rmog" class="cf"><rect x="5554" y="514" width="115" height="49"/><text x="5611.5" y="528">regulation of<tspan x="5611.5" dy="15">multicellular</tspan><tspan x="5611.5" dy="15">organism growth</tspan></text></g>
<g id="n_plorg"><rect x="5881" y="514" width="131" height="49"/><text x="5946.5" y="535.5">protein localization<tspan x="5946.5" dy="15">to organelle</tspan></text></g>
</g>
</svg>
